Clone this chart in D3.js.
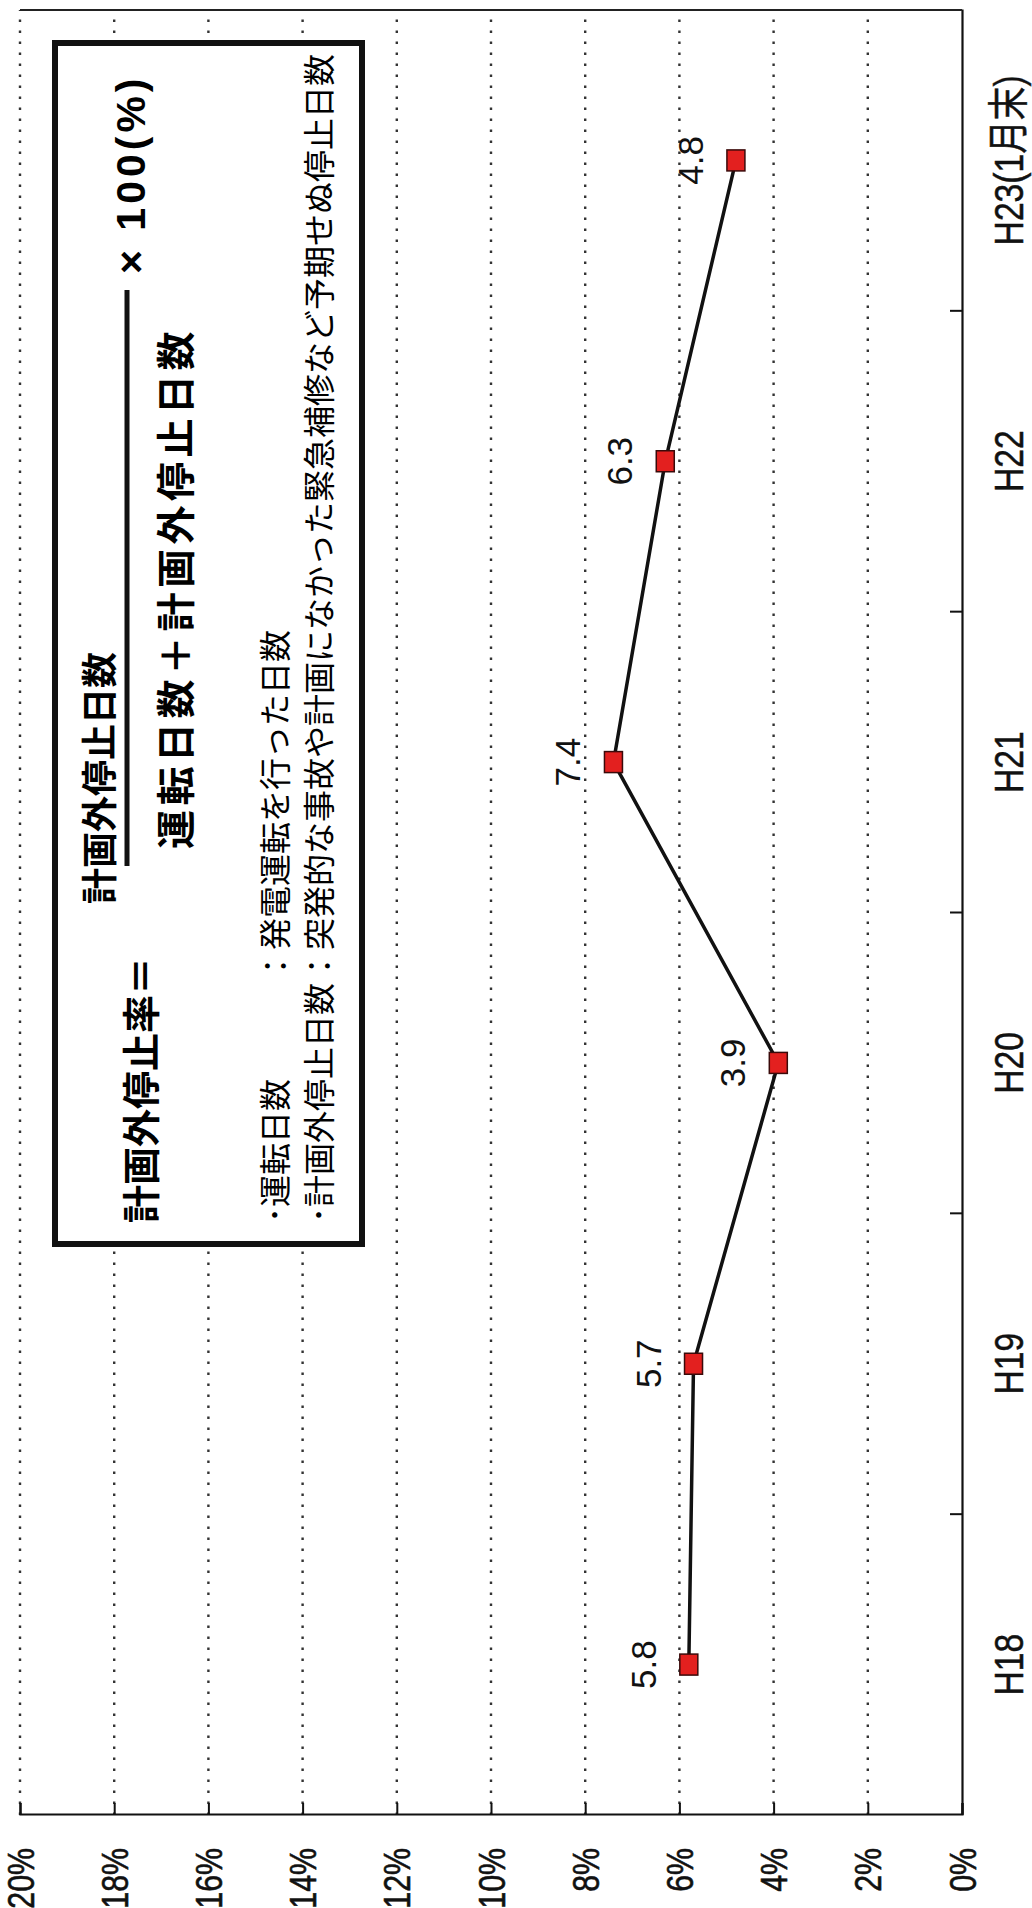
<!DOCTYPE html>
<html>
<head>
<meta charset="utf-8">
<script src="https://cdn.jsdelivr.net/npm/d3@7"></script>
<style>
  html, body { margin: 0; padding: 0; background: #fff; }
  svg { display: block; }
</style>
</head>
<body>
<script>
// Unplanned outage rate by fiscal year (percent)
const categories = ["H18", "H19", "H20", "H21", "H22", "H23(1月末)"];
const rates = [5.8, 5.7, 3.9, 7.4, 6.3, 4.8];
const rateTicks = [0, 2, 4, 6, 8, 10, 12, 14, 16, 18, 20];
const tickLabels = rateTicks.map(d => d + "%");

const formulaName = "計画外停止率＝";
const numeratorText = "計画外停止日数";
const denominatorText = "運転日数＋計画外停止日数";
const multiplierText = "× 100(%)";
const noteTerms = ["･運転日数", "･計画外停止日数"];
const noteDefs = ["：発電運転を行った日数", "：突発的な事故や計画になかった緊急補修など予期せぬ停止日数"];

const W = 1032, H = 1908;
const JP = "'Noto Sans CJK JP', 'Noto Sans', sans-serif";
const LAT = "'Liberation Sans', Arial, 'Noto Sans CJK JP', sans-serif";

const svg = d3.select("body").append("svg")
  .attr("width", W).attr("height", H);

// The chart is laid out landscape and turned a quarter turn counter-clockwise.
const g = svg.append("g").attr("transform", `translate(0,${H}) rotate(-90)`);

const plot = { left: 93, right: 1898, top: 20, bottom: 962 };

const x = d3.scaleBand().domain(categories).range([plot.left, plot.right]);
const y = d3.scaleLinear().domain([0, 20]).range([plot.bottom, plot.top]);

// dotted gridlines
g.append("g").selectAll("line").data(rateTicks.filter(d => d > 0)).join("line")
  .attr("x1", plot.left).attr("x2", plot.right)
  .attr("y1", d => y(d)).attr("y2", d => y(d))
  .attr("stroke", "#333").attr("stroke-width", 2.4)
  .attr("stroke-dasharray", "2.4,8.6");

// value axis with inside ticks
const yAxis = g.append("g")
  .attr("transform", `translate(${plot.left},0)`)
  .call(d3.axisLeft(y).tickValues(rateTicks).tickFormat((d, i) => tickLabels[i])
    .tickSize(-12).tickPadding(0));
yAxis.select(".domain").attr("stroke", "#111").attr("stroke-width", 2.2);
yAxis.selectAll(".tick line").attr("stroke", "#111").attr("stroke-width", 2);
yAxis.selectAll(".tick text")
  .attr("x", null).attr("dy", null)
  .attr("transform", "translate(-33,13) scale(0.82,1)")
  .attr("text-anchor", "end")
  .attr("font-family", LAT).attr("font-size", 37).attr("fill", "#111")
  .attr("stroke", "#111").attr("stroke-width", 0.6);

// category axis
const xAxis = g.append("g")
  .attr("transform", `translate(0,${plot.bottom})`)
  .call(d3.axisBottom(x).tickSize(0).tickPadding(0));
xAxis.select(".domain").attr("stroke", "#111").attr("stroke-width", 2.2);
xAxis.selectAll(".tick text")
  .attr("y", null).attr("dy", null)
  .attr("transform", "translate(0,61) scale(0.82,1)")
  .attr("font-family", LAT).attr("font-size", 41).attr("fill", "#111")
  .attr("stroke", "#111").attr("stroke-width", 0.5);

// category separators (inside ticks)
g.append("g").selectAll("line").data(categories.slice(1)).join("line")
  .attr("x1", d => x(d)).attr("x2", d => x(d))
  .attr("y1", plot.bottom).attr("y2", plot.bottom - 12)
  .attr("stroke", "#111").attr("stroke-width", 2);

// right border of plot area
g.append("line")
  .attr("x1", plot.right).attr("x2", plot.right)
  .attr("y1", plot.top).attr("y2", plot.bottom)
  .attr("stroke", "#222").attr("stroke-width", 2);

// legend / formula box
const box = g.append("g");
box.append("rect")
  .attr("x", 664).attr("y", 55).attr("width", 1201).attr("height", 307)
  .attr("fill", "#fff").attr("stroke", "#111").attr("stroke-width", 6);

box.append("text").attr("x", 685).attr("y", 155)
  .attr("font-family", JP).attr("font-weight", "bold").attr("font-size", 38)
  .text(formulaName);
box.append("text").attr("x", 1130).attr("y", 113).attr("text-anchor", "middle")
  .attr("font-family", JP).attr("font-weight", "bold").attr("font-size", 36)
  .text(numeratorText);
box.append("line").attr("x1", 1042).attr("x2", 1618).attr("y1", 127).attr("y2", 127)
  .attr("stroke", "#111").attr("stroke-width", 5);
box.append("text").attr("x", 1320).attr("y", 190).attr("text-anchor", "middle")
  .attr("font-family", JP).attr("font-weight", "bold").attr("font-size", 39)
  .attr("letter-spacing", 4.5)
  .text(denominatorText);
box.append("text").attr("x", 1634).attr("y", 145)
  .attr("font-family", LAT).attr("font-weight", "bold").attr("font-size", 41)
  .attr("letter-spacing", 4)
  .text(multiplierText);

box.selectAll("text.term").data(noteTerms).join("text").attr("class", "term")
  .attr("x", 685).attr("y", (d, i) => 287 + i * 44)
  .attr("font-family", JP).attr("font-size", 32)
  .text(d => d);
box.selectAll("text.def").data(noteDefs).join("text").attr("class", "def")
  .attr("x", 926).attr("y", (d, i) => 287 + i * 44)
  .attr("font-family", JP).attr("font-size", 32)
  .text(d => d);

// series line
const cx = d => x(d) + x.bandwidth() / 2;
g.append("path")
  .datum(categories.map((c, i) => [cx(c), y(rates[i])]))
  .attr("fill", "none").attr("stroke", "#111").attr("stroke-width", 3.5)
  .attr("d", d3.line());

// markers
g.append("g").selectAll("rect").data(categories).join("rect")
  .attr("x", d => cx(d) - 10.5).attr("y", (d, i) => y(rates[i]) - 9)
  .attr("width", 21).attr("height", 18)
  .attr("fill", "#e3201f").attr("stroke", "#3a0a0a").attr("stroke-width", 1.5);

// value labels
g.append("g").selectAll("text").data(categories).join("text")
  .attr("x", d => cx(d)).attr("y", (d, i) => y(rates[i]) - 45 + 12)
  .attr("text-anchor", "middle")
  .attr("font-family", LAT).attr("font-size", 35).attr("fill", "#111")
  .text((d, i) => rates[i].toFixed(1));
</script>
</body>
</html>
